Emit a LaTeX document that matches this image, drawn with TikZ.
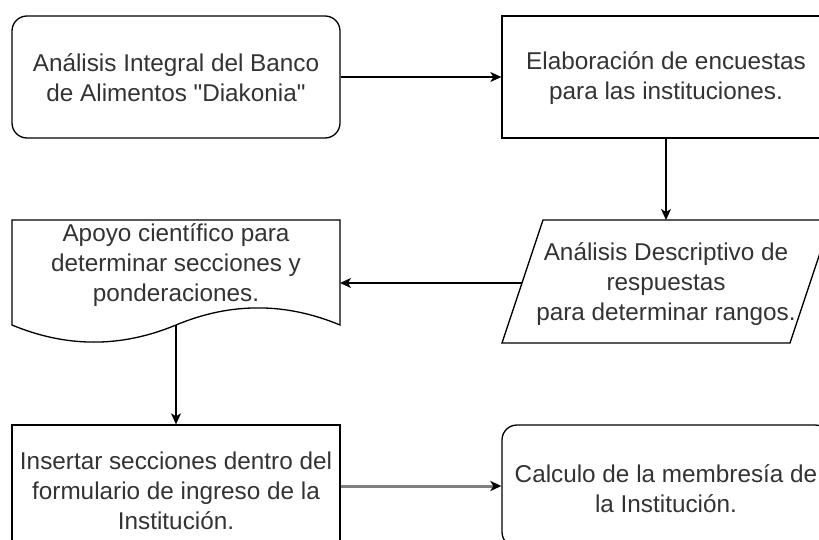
\documentclass[tikz,border=0pt]{standalone}
\usepackage{fontspec}
\setmainfont{Liberation Sans}[Ligatures=TeXOff]
\usetikzlibrary{arrows.meta}
\definecolor{txt}{HTML}{333333}
\definecolor{lgray}{HTML}{808080}
\begin{document}
\begin{tikzpicture}[x=1pt,y=-1pt,
  every node/.style={font=\fontsize{24.3}{30}\selectfont, text=txt, align=center, inner sep=0pt},
  box/.style={draw=black, line width=1.3pt, minimum width=328pt, minimum height=122pt},
  rbox/.style={box, rounded corners=15pt},
  shapeline/.style={draw=black, line width=1.3pt},
  conn/.style={line width=1.3pt, draw=black, -{Stealth[length=11pt,width=10pt,inset=3pt]}},
  gconn/.style={line width=3pt, draw=lgray, -{Stealth[length=11pt,width=10pt,inset=3pt,color=black]}}
]
\useasboundingbox (0,0) rectangle (819,540);
\clip (0,0) rectangle (819,540);
\fill[white] (0,0) rectangle (819,540);

% top row
\node[rbox] (b1) at (176,77) {};
\node at (176,78) {Análisis Integral del Banco\\de Alimentos "Diakonia"};
\node[box] (b2) at (666,77) {};
\node at (666,78) {Elaboración de encuestas\\para las instituciones.};

% parallelogram
\coordinate (pTL) at (543,220);
\coordinate (pTR) at (831,220);
\coordinate (pBR) at (790,343);
\coordinate (pBL) at (502,343);
\coordinate (pT) at (666,220);
\coordinate (pL) at (522,283);
\path[shapeline] (pTL) -- (pTR) -- (pBR) -- (pBL) -- cycle;
\node (ptxt) at (666,284) {Análisis Descriptivo de\\respuestas\\para determinar rangos.};

% document shape
\coordinate (dR) at (340,283);
\coordinate (dB) at (176,325);
\path[shapeline] (12,220) -- (340,220) -- (340,325)
  .. controls (285.3,302.2) and (230.7,302.2) .. (dB)
  .. controls (121.3,347.8) and (66.7,347.8) .. (12,325) -- cycle;
\node (dtxt) at (176,265) {Apoyo científico para\\determinar secciones y\\ponderaciones.};

% bottom row
\node[box] (b4) at (176,486) {};
\node at (176,491) {Insertar secciones dentro del\\formulario de ingreso de la\\Institución.};
\node[rbox] (b5) at (666,486) {};
\node at (666,489) {Calculo de la membresía de\\la Institución.};

% connectors
\draw[conn] (b1.east) -- (b2.west);
\draw[conn] (b2.south) -- (pT);
\draw[conn] (pL) -- (dR);
\draw[conn] (dB) -- (b4.north);
\draw[gconn] (b4.east) -- (b5.west);
\end{tikzpicture}
\end{document}
